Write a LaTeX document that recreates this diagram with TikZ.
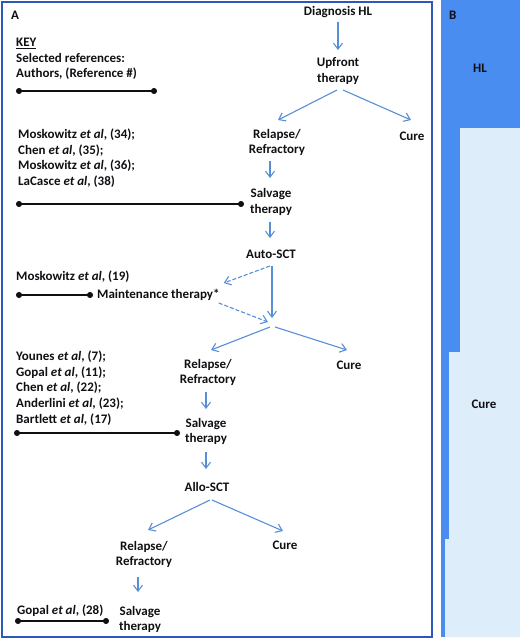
\documentclass[tikz,border=0pt]{standalone}
\usepackage{fontspec}
\setmainfont{Carlito}
\usetikzlibrary{arrows.meta,calc}
\definecolor{arrblue}{RGB}{88,142,214}
\definecolor{frameblue}{RGB}{46,88,184}
\definecolor{darkB}{RGB}{74,141,240}
\definecolor{lightB}{RGB}{221,238,250}
\definecolor{txt}{RGB}{15,15,20}
\tikzset{
  lbl/.style={inner sep=0pt, align=center, text=txt, font=\bfseries\fontsize{13}{15.6}\selectfont},
  lst/.style={inner sep=0pt, align=left, anchor=west, text=txt, font=\bfseries\fontsize{13}{15.6}\selectfont},
  arr/.style={draw=arrblue, line width=1.1pt, -{Straight Barb[length=6pt,width=9pt]}},
  darr/.style={arr, dash pattern=on 4pt off 2pt},
  keyline/.style={draw=txt, line width=1.2pt, {Circle[length=6pt,width=6pt]}-{Circle[length=6pt,width=6pt]}}
}
\begin{document}
\begin{tikzpicture}[x=1pt,y=-1pt]
\useasboundingbox (0,0) rectangle (520,641);
% panel B
\fill[darkB] (441,0) rectangle (520,637);
\fill[lightB] (460,128) -- (520,128) -- (520,637) -- (445,637) -- (445,539) -- (449,539) -- (449,352) -- (460,352) -- cycle;
\node[lst] (B) at (449,15) {B};
\node[lbl] (hl) at (480,68) {HL};
\node[lbl] (cureB) at (484,404) {Cure};
% panel A frame
\draw[frameblue, line width=2pt] (2,2) rectangle (432,637);
\node[lst] (A) at (11,15) {A};
% key
\node[lst] (key) at (16,59) {\underline{KEY}\\Selected references:\\Authors, (Reference \#)};
\coordinate (k1) at (16,91);
\coordinate (k2) at (157,91);
\draw[keyline] (k1) -- (k2);
% flow nodes
\node[lbl] (diag) at (338,12) {Diagnosis HL};
\node[lbl] (up) at (338,71) {Upfront\\therapy};
\node[lbl] (rr1) at (277,142.5) {Relapse/\\Refractory};
\node[lbl] (cure1) at (412,136) {Cure};
\node[lbl] (sal1) at (271,202) {Salvage\\therapy};
\node[lbl] (auto) at (271,254) {Auto-SCT};
\node[lst] (maint) at (97,295) {Maintenance therapy*};
\coordinate (j) at (272,322);
\node[lbl] (rr2) at (208,372.5) {Relapse/\\Refractory};
\node[lbl] (cure2) at (349,365) {Cure};
\node[lbl] (sal2) at (206,431.5) {Salvage\\therapy};
\node[lbl] (allo) at (207,487) {Allo-SCT};
\node[lbl] (rr3) at (144,554.5) {Relapse/\\Refractory};
\node[lbl] (cure3) at (285,545) {Cure};
\node[lbl] (sal3) at (140,619.5) {Salvage\\therapy};
% reference lists
\node[lst] (mosk) at (18,158) {Moskowitz \textit{et al}, (34);\\Chen \textit{et al}, (35);\\Moskowitz \textit{et al}, (36);\\LaCasce \textit{et al}, (38)};
\node[lst] (mosk19) at (16,277) {Moskowitz \textit{et al}, (19)};
\node[lst] (younes) at (16,388) {Younes \textit{et al}, (7);\\Gopal \textit{et al}, (11);\\Chen \textit{et al}, (22);\\Anderlini \textit{et al}, (23);\\Bartlett \textit{et al}, (17)};
\node[lst] (gopal) at (17,611) {Gopal \textit{et al}, (28)};
% reference lines
\coordinate (l1) at (16,204);
\draw[keyline] (l1) -- ($(sal1)+(-27,2)$);
\coordinate (l2) at (16,295);
\draw[keyline] (l2) -- ($(maint.west)+(-4,0)$);
\coordinate (l3) at (14,433);
\draw[keyline] (l3) -- ($(sal2)+(-26,1.5)$);
\coordinate (l4) at (15,621);
\draw[keyline] (l4) -- ($(sal3)+(-31,1.5)$);
% arrows
\draw[arr] ($(diag)+(0,10)$) -- ($(up)+(0,-21)$);
\draw[arr] ($(up)+(-1,19)$) -- ($(rr1)+(1,-22.5)$);
\draw[arr] ($(up)+(5,19)$) -- ($(cure1)+(-1,-16)$);
\draw[arr] ($(rr1)+(-7,18.5)$) -- ($(sal1)+(-1,-24)$);
\draw[arr] ($(sal1)+(-1,20)$) -- ($(auto)+(-1,-16)$);
\draw[arr] ($(auto)+(1,12)$) -- ($(j)+(0,-4)$);
\draw[darr] ($(auto)+(-1,12)$) -- ($(maint.east)+(4,-12)$);
\draw[darr] ($(maint.east)+(-1,8)$) -- ($(j)+(-4,0)$);
\draw[arr] ($(j)+(-2,5)$) -- ($(rr2)+(3,-22.5)$);
\draw[arr] ($(j)+(3,5)$) -- ($(cure2)+(-2,-15)$);
\draw[arr] ($(rr2)+(-2,19.5)$) -- ($(sal2)+(0,-22.5)$);
\draw[arr] ($(sal2)+(0,20.5)$) -- ($(allo)+(-1,-18)$);
\draw[arr] ($(allo)+(3,13)$) -- ($(rr3)+(4,-24.5)$);
\draw[arr] ($(allo)+(5,13)$) -- ($(cure3)+(-2,-14)$);
\draw[arr] ($(rr3)+(-6,22.5)$) -- ($(sal3)+(-2,-27.5)$);
\end{tikzpicture}
\end{document}
